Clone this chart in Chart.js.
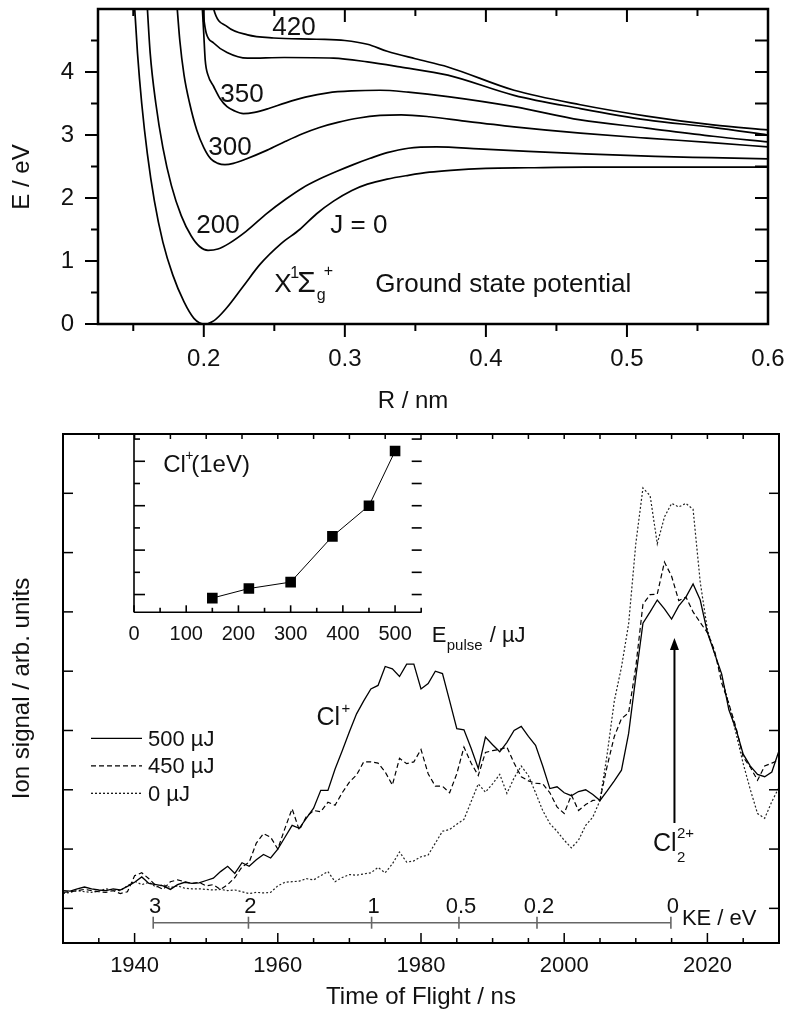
<!DOCTYPE html>
<html>
<head>
<meta charset="utf-8">
<script src="https://cdn.jsdelivr.net/npm/chart.js@4/dist/chart.umd.min.js"></script>
<style>
  body { margin: 0; background: #fff; }
  #page { position: relative; width: 785px; height: 1014px; }
  canvas { position: absolute; }
</style>
</head>
<body>
<div id="page">
  <canvas id="potentiel" width="785" height="420" style="left:0;top:0"></canvas>
  <canvas id="spectre" width="785" height="594" style="left:0;top:420px"></canvas>
  <canvas id="encart" width="440" height="240" style="left:100px;top:420px"></canvas>
</div>
<script>
// ---- courbes de potentiel (R en nm, E en eV) ----
const rJ0 = [0.1505, 0.153, 0.156, 0.160, 0.165, 0.171, 0.178, 0.186, 0.193, 0.200, 0.207, 0.216, 0.228, 0.240, 0.255, 0.268, 0.280, 0.292, 0.305, 0.316, 0.330, 0.345, 0.360, 0.375, 0.400, 0.430, 0.470, 0.520, 0.600];
const eJ0 = [5.2, 4.3, 3.5, 2.7, 1.95, 1.3, 0.78, 0.35, 0.09, 0.0, 0.05, 0.25, 0.6, 0.95, 1.28, 1.5, 1.75, 1.95, 2.12, 2.22, 2.30, 2.36, 2.41, 2.44, 2.47, 2.48, 2.49, 2.49, 2.49];
const rJ200 = [0.1595, 0.162, 0.166, 0.171, 0.177, 0.184, 0.191, 0.197, 0.203, 0.210, 0.218, 0.230, 0.245, 0.258, 0.270, 0.282, 0.294, 0.306, 0.318, 0.330, 0.345, 0.365, 0.395, 0.430, 0.470, 0.520, 0.560, 0.600];
const eJ200 = [5.2, 4.3, 3.5, 2.8, 2.2, 1.72, 1.40, 1.23, 1.17, 1.19, 1.28, 1.47, 1.76, 1.98, 2.16, 2.30, 2.42, 2.53, 2.63, 2.72, 2.79, 2.81, 2.78, 2.74, 2.70, 2.66, 2.64, 2.62];
const rJ300 = [0.1805, 0.183, 0.186, 0.190, 0.195, 0.200, 0.205, 0.210, 0.215, 0.221, 0.230, 0.245, 0.258, 0.270, 0.282, 0.295, 0.310, 0.325, 0.340, 0.360, 0.385, 0.420, 0.467, 0.514, 0.560, 0.600];
const eJ300 = [5.2, 4.5, 3.95, 3.5, 3.08, 2.80, 2.62, 2.55, 2.53, 2.55, 2.62, 2.76, 2.90, 3.02, 3.12, 3.20, 3.27, 3.31, 3.32, 3.29, 3.22, 3.13, 3.03, 2.95, 2.88, 2.81];
const rJ350 = [0.1985, 0.200, 0.201, 0.203, 0.207, 0.2115, 0.2165, 0.222, 0.228, 0.236, 0.246, 0.258, 0.272, 0.288, 0.305, 0.325, 0.345, 0.373, 0.420, 0.467, 0.514, 0.561, 0.600];
const eJ350 = [5.2, 4.6, 4.19, 3.95, 3.77, 3.58, 3.45, 3.38, 3.34, 3.36, 3.42, 3.51, 3.60, 3.67, 3.70, 3.71, 3.68, 3.61, 3.45, 3.24, 3.11, 2.98, 2.89];
const rJ400 = [0.1985, 0.2000, 0.2017, 0.207, 0.2165, 0.231, 0.257, 0.292, 0.316, 0.339, 0.373, 0.420, 0.467, 0.514, 0.561, 0.600];
const eJ400 = [5.2, 4.85, 4.62, 4.46, 4.31, 4.22, 4.23, 4.22, 4.16, 4.08, 3.95, 3.63, 3.42, 3.24, 3.12, 3.00];
const rJ420 = [0.2055, 0.207, 0.2166, 0.231, 0.2495, 0.280, 0.300, 0.316, 0.330, 0.350, 0.373, 0.420, 0.467, 0.514, 0.561, 0.600];
const eJ420 = [5.2, 5.0, 4.72, 4.59, 4.54, 4.52, 4.50, 4.44, 4.33, 4.21, 4.08, 3.71, 3.48, 3.30, 3.16, 3.08];
const ticksR = [0.2, 0.3, 0.4, 0.5, 0.6];
const ticksE = [0, 1, 2, 3, 4];

// ---- spectre de temps de vol ----
const tof = [1930, 1931, 1932, 1933, 1934, 1935, 1936, 1937, 1938, 1939,
  1940, 1941, 1942, 1943, 1944, 1945, 1946, 1947, 1948, 1949,
  1950, 1951, 1952, 1953, 1954, 1955, 1956, 1957, 1958, 1959,
  1960, 1961, 1962, 1963, 1964, 1965, 1966, 1967, 1968, 1969,
  1970, 1971, 1972, 1973, 1974, 1975, 1976, 1977, 1978, 1979,
  1980, 1981, 1982, 1983, 1984, 1985, 1986, 1987, 1988, 1989,
  1990, 1991, 1992, 1993, 1994, 1995, 1996, 1997, 1998, 1999,
  2000, 2001, 2002, 2003, 2004, 2005, 2006, 2007, 2008, 2009,
  2010, 2011, 2012, 2013, 2014, 2015, 2016, 2017, 2018, 2019,
  2020, 2021, 2022, 2023, 2024, 2025, 2026, 2027, 2028, 2029, 2030];
const signal500 = [0.30, 0.29, 0.33, 0.36, 0.33, 0.31, 0.30, 0.33, 0.31, 0.37,
  0.44, 0.53, 0.42, 0.40, 0.38, 0.32, 0.40, 0.44, 0.42, 0.43,
  0.47, 0.51, 0.62, 0.71, 0.59, 0.77, 0.71, 0.82, 0.91, 0.85,
  1.00, 1.20, 1.40, 1.35, 1.52, 1.69, 1.99, 1.99, 2.35, 2.66,
  2.98, 3.28, 3.50, 3.70, 3.76, 4.08, 4.04, 3.91, 4.12, 4.12,
  3.70, 3.79, 4.00, 3.96, 3.50, 3.03, 3.01, 2.70, 2.36, 2.89,
  2.76, 2.64, 2.80, 3.00, 3.07, 2.90, 2.75, 2.40, 2.02, 2.05,
  1.95, 1.90, 1.97, 2.00, 1.92, 1.82, 1.98, 2.15, 2.33, 2.95,
  3.90, 4.81, 5.00, 5.20, 5.05, 4.88, 5.10, 5.25, 5.47, 5.20,
  4.65, 4.30, 3.95, 3.35, 3.02, 2.60, 2.40, 2.26, 2.22, 2.30, 2.66];
const signal450 = [0.27, 0.28, 0.30, 0.32, 0.30, 0.28, 0.27, 0.30, 0.25, 0.28,
  0.55, 0.60, 0.50, 0.38, 0.32, 0.45, 0.48, 0.45, 0.42, 0.44,
  0.38, 0.40, 0.32, 0.40, 0.52, 0.70, 0.78, 1.10, 1.26, 1.20,
  1.00, 1.35, 1.68, 1.32, 1.55, 1.65, 1.63, 1.79, 1.74, 1.95,
  2.13, 2.25, 2.47, 2.47, 2.45, 2.30, 2.08, 2.53, 2.44, 2.47,
  2.68, 2.27, 2.06, 2.06, 1.95, 2.27, 2.72, 2.45, 2.24, 2.63,
  2.66, 2.68, 2.72, 2.45, 2.22, 2.15, 2.11, 2.10, 1.95, 1.71,
  1.60, 1.91, 1.65, 1.75, 1.82, 1.83, 2.40, 2.90, 3.20, 3.30,
  4.07, 5.13, 5.29, 5.30, 5.84, 5.60, 5.19, 5.25, 5.00, 4.82,
  4.65, 4.35, 3.80, 3.45, 3.05, 2.55, 2.38, 2.16, 2.40, 2.45, 2.50];
const signal0 = [0.25, 0.27, 0.30, 0.28, 0.27, 0.29, 0.33, 0.31, 0.30, 0.38,
  0.46, 0.40, 0.44, 0.36, 0.40, 0.35, 0.38, 0.34, 0.33, 0.33,
  0.32, 0.31, 0.32, 0.30, 0.31, 0.28, 0.25, 0.27, 0.26, 0.27,
  0.38, 0.44, 0.45, 0.46, 0.50, 0.48, 0.55, 0.62, 0.45, 0.52,
  0.57, 0.56, 0.58, 0.60, 0.69, 0.60, 0.75, 0.95, 0.78, 0.80,
  0.87, 0.90, 1.10, 1.30, 1.33, 1.42, 1.50, 1.80, 2.10, 1.96,
  2.10, 2.26, 1.94, 2.20, 2.40, 2.24, 1.95, 1.65, 1.43, 1.30,
  1.15, 1.02, 1.15, 1.40, 1.54, 1.82, 2.60, 3.50, 4.07, 4.80,
  6.15, 7.09, 6.96, 6.15, 6.60, 6.83, 6.77, 6.83, 6.73, 5.50,
  4.70, 4.30, 3.90, 3.45, 2.95, 2.44, 2.00, 1.60, 1.52, 1.80, 2.04];
const ticksTof = [1940, 1960, 1980, 2000, 2020];
// échelle d'énergie cinétique placée sur l'axe des temps de vol
const keLabels = ['3', '2', '1', '0.5', '0.2', '0'];
const keTof = [1942.6, 1955.9, 1973.1, 1985.3, 1996.2, 2014.9];

// ---- encart : Cl+ (1 eV) en fonction de l'énergie du pulse ----
const energiePulse = [150, 220, 300, 380, 450, 500];
const signalCl1eV = [0.92, 1.135, 1.28, 2.31, 3.0, 4.23];
const ticksPulse = [0, 100, 200, 300, 400, 500];

const POLICE = '"Liberation Sans", Arial, sans-serif';
Chart.defaults.font.family = POLICE;
Chart.defaults.color = '#111';

function trait(ctx, x1, y1, x2, y2) {
  ctx.beginPath();
  ctx.moveTo(x1, y1);
  ctx.lineTo(x2, y2);
  ctx.stroke();
}
function texte(ctx, s, x, y, taille, align) {
  ctx.font = taille + 'px ' + POLICE;
  ctx.textAlign = align || 'left';
  ctx.textBaseline = 'alphabetic';
  ctx.fillText(s, x, y);
  return ctx.measureText(s).width;
}

// cadre, graduations et étiquettes du graphe des potentiels
const decorPotentiel = {
  id: 'decorPotentiel',
  afterDraw(chart) {
    const {ctx, chartArea: a, scales: {x, y}} = chart;
    ctx.save();
    ctx.strokeStyle = '#000';
    ctx.fillStyle = '#111';
    ctx.lineWidth = 2.5;
    ctx.strokeRect(a.left, a.top, a.right - a.left, a.bottom - a.top);
    ctx.lineWidth = 2;
    for (let v = 0.15; v < 0.6; v += 0.05) {
      const px = x.getPixelForValue(v);
      const l = ticksR.some(t => Math.abs(t - v) < 1e-6) ? 13 : 7;
      trait(ctx, px, a.bottom, px, a.bottom + l);
      trait(ctx, px, a.top, px, a.top + l);
    }
    for (let v = 0; v <= 4.5; v += 0.5) {
      const py = y.getPixelForValue(v);
      const l = Number.isInteger(v) ? 13 : 7;
      trait(ctx, a.left, py, a.left - l, py);
      trait(ctx, a.right, py, a.right - 13, py);
    }
    // titres des axes
    ctx.save();
    ctx.translate(22, 177);
    ctx.rotate(-Math.PI / 2);
    ctx.font = '24px ' + POLICE;
    ctx.textAlign = 'center';
    ctx.textBaseline = 'middle';
    ctx.fillText('E / eV', 0, 0);
    ctx.restore();
    ctx.font = '24px ' + POLICE;
    ctx.textAlign = 'center';
    ctx.textBaseline = 'middle';
    ctx.fillText('R / nm', 413, 401);

    const at = (r, e) => [x.getPixelForValue(r), y.getPixelForValue(e)];
    let p = at(0.2486, 4.587); texte(ctx, '420', p[0], p[1], 26);
    p = at(0.2117, 3.529); texte(ctx, '350', p[0], p[1], 26);
    p = at(0.2032, 2.683); texte(ctx, '300', p[0], p[1], 26);
    p = at(0.1947, 1.444); texte(ctx, '200', p[0], p[1], 26);
    p = at(0.2897, 1.444); texte(ctx, 'J = 0', p[0], p[1], 26);
    p = at(0.25, 0.508);
    texte(ctx, 'X', p[0], p[1], 26);
    texte(ctx, '1', p[0] + 16, p[1] - 14, 16);
    const ws = texte(ctx, 'Σ', p[0] + 23, p[1], 30);
    texte(ctx, 'g', p[0] + 24 + ws, p[1] + 8, 16);
    texte(ctx, '+', p[0] + 31 + ws, p[1] - 16, 16);
    texte(ctx, 'Ground state potential', p[0] + 101, p[1], 26);
    ctx.restore();
  }
};

const courbes = [[rJ0, eJ0], [rJ200, eJ200], [rJ300, eJ300], [rJ350, eJ350], [rJ400, eJ400], [rJ420, eJ420]];

new Chart(document.getElementById('potentiel'), {
  type: 'scatter',
  data: {
    datasets: courbes.map(([r, e]) => ({
      data: r.map((v, i) => ({x: v, y: e[i]})),
      showLine: true,
      borderColor: '#000',
      borderWidth: 1.7,
      pointRadius: 0,
      cubicInterpolationMode: 'monotone'
    }))
  },
  options: {
    responsive: false,
    animation: false,
    layout: {padding: {top: 9, right: 17, left: 0, bottom: 0}},
    plugins: {legend: {display: false}, tooltip: {enabled: false}},
    scales: {
      x: {
        type: 'linear', min: 0.125, max: 0.6,
        // pas de marge automatique : le cadre est fixé par layout.padding
        afterFit: s => { s.height = 96; s.paddingLeft = 0; s.paddingRight = 0; },
        afterBuildTicks: s => { s.ticks = ticksR.map(v => ({value: v})); },
        grid: {display: false, drawTicks: false},
        border: {display: false},
        ticks: {padding: 21, font: {size: 24}, maxRotation: 0, callback: v => v.toFixed(1)}
      },
      y: {
        type: 'linear', min: 0, max: 5,
        afterFit: s => { s.width = 98; s.paddingTop = 0; s.paddingBottom = 0; },
        afterBuildTicks: s => { s.ticks = ticksE.map(v => ({value: v})); },
        grid: {display: false, drawTicks: false},
        border: {display: false},
        ticks: {padding: 24, font: {size: 24}, callback: v => String(v)}
      }
    }
  },
  plugins: [decorPotentiel]
});

// cadre, échelle KE, légende et annotations du spectre
const decorSpectre = {
  id: 'decorSpectre',
  afterDraw(chart) {
    const {ctx, chartArea: a, scales: {x, y}} = chart;
    ctx.save();
    ctx.strokeStyle = '#000';
    ctx.fillStyle = '#111';
    ctx.lineWidth = 2;
    ctx.strokeRect(a.left, a.top, a.right - a.left, a.bottom - a.top);
    ctx.lineWidth = 1.5;
    for (let t = 1935; t < 2030; t += 5) {
      const px = x.getPixelForValue(t);
      trait(ctx, px, a.bottom, px, a.bottom - (ticksTof.includes(t) ? 10 : 5));
      trait(ctx, px, a.top, px, a.top + 5);
    }
    for (let v = 0; v < 8; v++) {
      const py = y.getPixelForValue(v);
      trait(ctx, a.left, py, a.left + 10, py);
      trait(ctx, a.right, py, a.right - 10, py);
    }

    // échelle d'énergie cinétique
    const yRegle = y.getPixelForValue(-0.242);
    ctx.strokeStyle = '#666';
    ctx.lineWidth = 1.6;
    trait(ctx, x.getPixelForValue(keTof[0]), yRegle, x.getPixelForValue(keTof[keTof.length - 1]), yRegle);
    keTof.forEach((t, i) => {
      const px = x.getPixelForValue(t);
      trait(ctx, px, yRegle - 6, px, yRegle + 6);
      texte(ctx, keLabels[i], px + 2, yRegle - 9.4, 22, 'center');
    });
    texte(ctx, 'KE / eV', x.getPixelForValue(keTof[keTof.length - 1]) + 11, yRegle + 2.3, 22);

    // flèche Cl2 2+
    const xa = x.getPixelForValue(2015.4);
    const yb = y.getPixelForValue(1.44);
    const yh = y.getPixelForValue(4.56);
    ctx.strokeStyle = '#000';
    ctx.fillStyle = '#000';
    ctx.lineWidth = 2;
    trait(ctx, xa, yb, xa, yh + 10);
    ctx.beginPath();
    ctx.moveTo(xa, yh);
    ctx.lineTo(xa - 4.5, yh + 12);
    ctx.lineTo(xa + 4.5, yh + 12);
    ctx.closePath();
    ctx.fill();
    ctx.fillStyle = '#111';

    let px = x.getPixelForValue(2012.4), py = y.getPixelForValue(0.97);
    texte(ctx, 'Cl', px, py, 25);
    texte(ctx, '2', px + 24, py + 11, 15);
    texte(ctx, '2+', px + 24, py - 13, 15);

    px = x.getPixelForValue(1965.4); py = y.getPixelForValue(3.09);
    texte(ctx, 'Cl', px, py, 25);
    texte(ctx, '+', px + 25, py - 12, 15);

    // légende
    chart.data.datasets.forEach((ds, i) => {
      const ly = a.top + 304.3 + i * 27.5;
      ctx.strokeStyle = '#000';
      ctx.lineWidth = ds.borderWidth;
      ctx.setLineDash(ds.borderDash || []);
      trait(ctx, a.left + 28, ly, a.left + 79, ly);
      ctx.setLineDash([]);
      texte(ctx, ds.label, a.left + 85, ly + 7.5, 22);
    });
    ctx.restore();
  }
};

const serie = (vals) => tof.map((t, i) => ({x: t, y: vals[i]}));

new Chart(document.getElementById('spectre'), {
  type: 'scatter',
  data: {
    datasets: [
      {label: '500 µJ', data: serie(signal500), borderColor: '#000', borderWidth: 1.3, borderDash: []},
      {label: '450 µJ', data: serie(signal450), borderColor: '#000', borderWidth: 1.2, borderDash: [5, 3]},
      {label: '0 µJ', data: serie(signal0), borderColor: '#222', borderWidth: 1.2, borderDash: [2, 2]}
    ].map(d => Object.assign(d, {showLine: true, pointRadius: 0, tension: 0}))
  },
  options: {
    responsive: false,
    animation: false,
    layout: {padding: {top: 14, right: 6, left: 0, bottom: 0}},
    plugins: {legend: {display: false}, tooltip: {enabled: false}},
    scales: {
      x: {
        type: 'linear', min: 1930, max: 2030,
        afterFit: s => { s.height = 71; s.paddingLeft = 0; s.paddingRight = 0; },
        afterBuildTicks: s => { s.ticks = ticksTof.map(v => ({value: v})); },
        grid: {display: false, drawTicks: false},
        border: {display: false},
        ticks: {padding: 10, font: {size: 22}, maxRotation: 0, callback: v => String(v)},
        title: {display: true, text: 'Time of Flight / ns', font: {size: 24}, padding: {top: 0, bottom: 2}}
      },
      y: {
        type: 'linear', min: -0.584, max: 8,
        afterFit: s => { s.width = 63; },
        grid: {display: false, drawTicks: false},
        border: {display: false},
        ticks: {display: false},
        title: {display: true, text: 'Ion signal / arb. units', font: {size: 24}, padding: {top: 8, bottom: 0}}
      }
    }
  },
  plugins: [decorSpectre]
});

// axes et annotations de l'encart
const decorEncart = {
  id: 'decorEncart',
  afterDraw(chart) {
    const {ctx, chartArea: a, scales: {x, y}} = chart;
    ctx.save();
    ctx.strokeStyle = '#000';
    ctx.fillStyle = '#111';
    ctx.lineWidth = 1.6;
    trait(ctx, a.left, a.top, a.left, a.bottom);
    trait(ctx, a.left, a.bottom, a.right, a.bottom);
    for (let v = 0; v <= 550; v += 50) {
      const px = x.getPixelForValue(v);
      trait(ctx, px, a.bottom, px, a.bottom - (v % 100 === 0 ? 7 : 4.5));
    }
    for (let v = 1; v <= 4.5; v += 0.5) {
      const py = y.getPixelForValue(v);
      trait(ctx, a.left, py, a.left + (Number.isInteger(v) ? 11 : 6), py);
      trait(ctx, a.right, py, a.right - 10, py);
    }
    const px = x.getPixelForValue(56), py = y.getPixelForValue(3.76);
    texte(ctx, 'Cl', px, py, 24);
    texte(ctx, '+', px + 22, py - 12, 14);
    texte(ctx, '(1eV)', px + 28, py, 24);

    texte(ctx, 'E', a.right + 10, a.bottom + 29.4, 22);
    texte(ctx, 'pulse', a.right + 25, a.bottom + 38, 15);
    texte(ctx, '/ µJ', a.right + 68, a.bottom + 29.4, 22);
    ctx.restore();
  }
};

new Chart(document.getElementById('encart'), {
  type: 'scatter',
  data: {
    datasets: [{
      data: energiePulse.map((e, i) => ({x: e, y: signalCl1eV[i]})),
      showLine: true,
      borderColor: '#000',
      borderWidth: 1,
      pointStyle: 'rect',
      pointRadius: 7.5,
      pointBackgroundColor: '#000',
      pointBorderColor: '#000',
      pointBorderWidth: 0
    }]
  },
  options: {
    responsive: false,
    animation: false,
    layout: {padding: {top: 13.3, right: 118.3, left: 0, bottom: 0}},
    plugins: {legend: {display: false}, tooltip: {enabled: false}},
    scales: {
      x: {
        type: 'linear', min: 0, max: 551,
        afterFit: s => { s.height = 47.7; s.paddingLeft = 0; s.paddingRight = 0; },
        afterBuildTicks: s => { s.ticks = ticksPulse.map(v => ({value: v})); },
        grid: {display: false, drawTicks: false},
        border: {display: false},
        ticks: {padding: 10, font: {size: 20}, maxRotation: 0, callback: v => String(v)}
      },
      y: {
        type: 'linear', min: 0.6, max: 4.63,
        afterFit: s => { s.width = 34; },
        grid: {display: false, drawTicks: false},
        border: {display: false},
        ticks: {display: false}
      }
    }
  },
  plugins: [decorEncart]
});
</script>
</body>
</html>
